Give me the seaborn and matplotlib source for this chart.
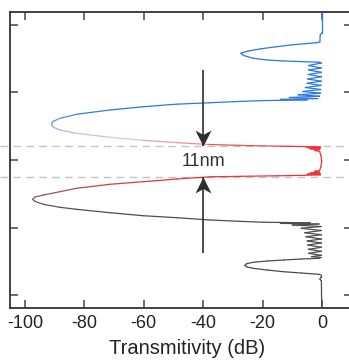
import numpy as np
import matplotlib
matplotlib.use("Agg")
import matplotlib.pyplot as plt
from matplotlib.collections import LineCollection
from matplotlib.colors import LinearSegmentedColormap, Normalize
from matplotlib.path import Path
import seaborn as sns

# ---- data (wavelength in nm, transmission in dB) ----
wavelength_nm = [
    1495.19, 1502.96, 1503.70, 1506.30,
    1506.59, 1506.85, 1507.33, 1508.04, 1508.81, 1509.63, 1510.48, 1511.33,
    1512.33, 1512.96, 1513.33, 1513.59, 1513.78,
    1514.07, 1515.00, 1515.93, 1516.67, 1517.52, 1518.33, 1519.19, 1520.00,
    1520.81, 1521.59, 1522.37, 1523.15, 1523.89, 1524.63, 1525.26, 1525.85,
    1526.37, 1526.85, 1527.26, 1527.56, 1527.74,
    1528.00, 1528.37, 1528.81, 1529.33, 1530.26, 1531.48, 1533.07, 1534.56,
    1535.67, 1536.22, 1536.78, 1537.33, 1537.89, 1538.89, 1540.11, 1541.59,
    1542.70, 1543.56,
    1544.26, 1544.63, 1544.89, 1545.04,
    1545.19, 1545.41, 1545.63, 1545.89, 1546.15, 1546.48, 1546.85, 1548.15,
    1550.37, 1552.59, 1553.89, 1554.19, 1554.52, 1554.78, 1555.04, 1555.26,
    1555.48,
    1555.67, 1555.85, 1556.04, 1556.22, 1557.04, 1558.04, 1559.00, 1560.48,
    1561.74, 1562.96, 1563.74, 1564.56, 1565.33, 1566.41, 1567.52, 1568.26,
    1569.52, 1570.63,
    1571.37, 1572.22, 1572.70, 1573.04, 1573.26, 1573.48, 1573.70, 1574.07,
    1574.63, 1575.30, 1576.11, 1576.93, 1577.67, 1578.41, 1579.26, 1580.00,
    1580.74, 1581.48, 1582.33, 1583.07, 1583.81, 1584.56, 1585.30, 1585.78,
    1586.11,
    1586.41, 1586.67, 1587.04, 1587.41, 1587.89, 1588.41, 1589.00, 1589.56,
    1590.11, 1590.74, 1591.37, 1591.85, 1592.33, 1592.59, 1593.33, 1594.07,
    1594.81, 1604.81,
]
transmission_db = [
    -0.1, -0.1, -0.6, -0.7,
    -2.0, -5.0, -10.0, -15.2, -20.5, -24.8, -27.3, -26.3,
    -23.1, -18.5, -13.0, -6.0, -1.0,
    -0.2, -4.5, -0.2, -4.5, -0.2, -4.6, -0.2, -4.8,
    -0.2, -5.0, -0.3, -5.6, -0.4, -6.5, -0.5, -8.0,
    -0.8, -11.0, -1.5, -14.0, -5.0,
    -20.0, -29.0, -38.0, -49.0, -60.0, -71.4, -82.6, -88.2,
    -90.4, -90.9, -91.0, -90.9, -90.4, -88.2, -82.6, -71.4,
    -60.2, -49.0,
    -38.0, -26.0, -14.0, -5.0,
    -0.5, -5.0, -0.6, -4.0, -0.8, -2.5, -0.8, -0.4,
    -0.1, -0.4, -0.8, -2.5, -0.8, -4.0, -0.6, -5.0,
    -0.5,
    -6.0, -15.0, -27.0, -37.7, -48.9, -60.2, -71.4, -82.6,
    -88.2, -93.8, -96.6, -97.4, -96.6, -93.8, -88.2, -82.6,
    -71.4, -60.2,
    -48.9, -37.7, -28.0, -20.0, -4.0, -14.0, -1.0, -10.0,
    -0.3, -7.0, -0.2, -5.8, -0.2, -5.4, -0.2, -5.0,
    -0.2, -4.8, -0.2, -4.6, -0.2, -4.5, -0.2, -3.5,
    -0.3,
    -1.0, -7.0, -13.0, -18.5, -23.2, -25.4, -26.0, -25.4,
    -23.2, -18.5, -13.0, -7.0, -1.0, -0.3, -0.3, -0.7,
    -0.2, -0.1,
]
band_edges_nm = [1544.9, 1556.4]        # dashed lines (-40 dB crossings)
arrow_x_db = -40
arrow_from_nm = [1516.56, 1584.56]
gap_label = "11nm"
gap_label_nm = 1550.6
x_ticks = [-100, -80, -60, -40, -20, 0]
x_ticklabels = ["-100", "-80", "-60", "-40", "-20", "0"]
y_ticks = [1500, 1525, 1550, 1575, 1600]

# ---- style ----
sns.set_theme(style="ticks")
plt.rcParams["font.family"] = ["Liberation Sans", "DejaVu Sans"]
plt.rcParams["axes.unicode_minus"] = False

W, H = 349, 360
fig = plt.figure(figsize=(W / 100, H / 100), dpi=100)
ax = fig.add_axes([10 / W, (H - 308) / H, (351.7 - 10) / W, (308 - 12) / H])
ax.set_facecolor("white")
fig.patch.set_facecolor("white")

# colour gradient along wavelength
stop_nm = [1495, 1531.5, 1536.7, 1539.8, 1542.2, 1543.9, 1545.0, 1557.3,
           1559.5, 1562.0, 1564.8, 1568.5, 1605]
stop_col = ["#2b78dc", "#2b78dc", "#78a0dc", "#b9c0dc", "#e6c6ca", "#ec8a8e",
            "#e8353b", "#e8353b", "#c64444", "#985656", "#6c6464", "#4e4e4e",
            "#4a4a4a"]
lo, hi = stop_nm[0], stop_nm[-1]
cmap = LinearSegmentedColormap.from_list(
    "grad", list(zip([(s - lo) / (hi - lo) for s in stop_nm], stop_col)))
norm = Normalize(lo, hi)

x = np.asarray(transmission_db)
y = np.asarray(wavelength_nm)
pts = np.column_stack([x, y]).reshape(-1, 1, 2)
segs = np.concatenate([pts[:-1], pts[1:]], axis=1)
mid = 0.5 * (y[:-1] + y[1:])
lc = LineCollection(segs, colors=cmap(norm(mid)), linewidths=0.9,
                    capstyle="round", joinstyle="round", zorder=3)
ax.add_collection(lc)

# dashed guide lines (extend a bit past the left spine)
for yy in band_edges_nm:
    ax.plot([-108.5, 10], [yy, yy], color="#c4c4c4", lw=1.0,
            ls=(0, (5.5, 3.8)), clip_on=False, zorder=2)

# arrows with stealth-style heads
head_down = Path([(0, 0), (-0.5, 1.0), (0, 0.72), (0.5, 1.0), (0, 0)],
                 [Path.MOVETO, Path.LINETO, Path.LINETO, Path.LINETO, Path.CLOSEPOLY])
head_up = Path([(0, 0), (-0.5, -1.0), (0, -0.72), (0.5, -1.0), (0, 0)],
               [Path.MOVETO, Path.LINETO, Path.LINETO, Path.LINETO, Path.CLOSEPOLY])
for y0, y1, head in zip(arrow_from_nm, band_edges_nm, [head_down, head_up]):
    ax.plot([arrow_x_db, arrow_x_db], [y0, y1], color="#2e2e2e", lw=1.2,
            solid_capstyle="butt", zorder=4)
    ax.plot([arrow_x_db], [y1], marker=head, markersize=23,
            color="#2e2e2e", markeredgewidth=0, zorder=5, ls="none")
ax.text(arrow_x_db, gap_label_nm, gap_label, ha="center", va="center",
        fontsize=13, color="#333333", zorder=5)

ax.set_xlim(-105, 10)
ax.set_ylim(1604.81, 1495.19)
ax.set_xticks(x_ticks)
ax.set_xticklabels(x_ticklabels)
ax.set_yticks(y_ticks)
ax.set_yticklabels([])
ax.tick_params(axis="both", direction="in", length=5.8, width=1.1,
               color="#444444", top=True, right=True, labelsize=13,
               labelcolor="#222222")
ax.tick_params(axis="x", pad=5)
for sp in ax.spines.values():
    sp.set_linewidth(1.3)
    sp.set_color("#333333")
ax.spines["right"].set_visible(False)
ax.set_xlabel("Transmitivity (dB)", fontsize=14.5, color="#222222")
ax.xaxis.set_label_coords((187 - 10) / (351.7 - 10), -0.104)

fig.savefig("out.png", dpi=100, facecolor="white")
